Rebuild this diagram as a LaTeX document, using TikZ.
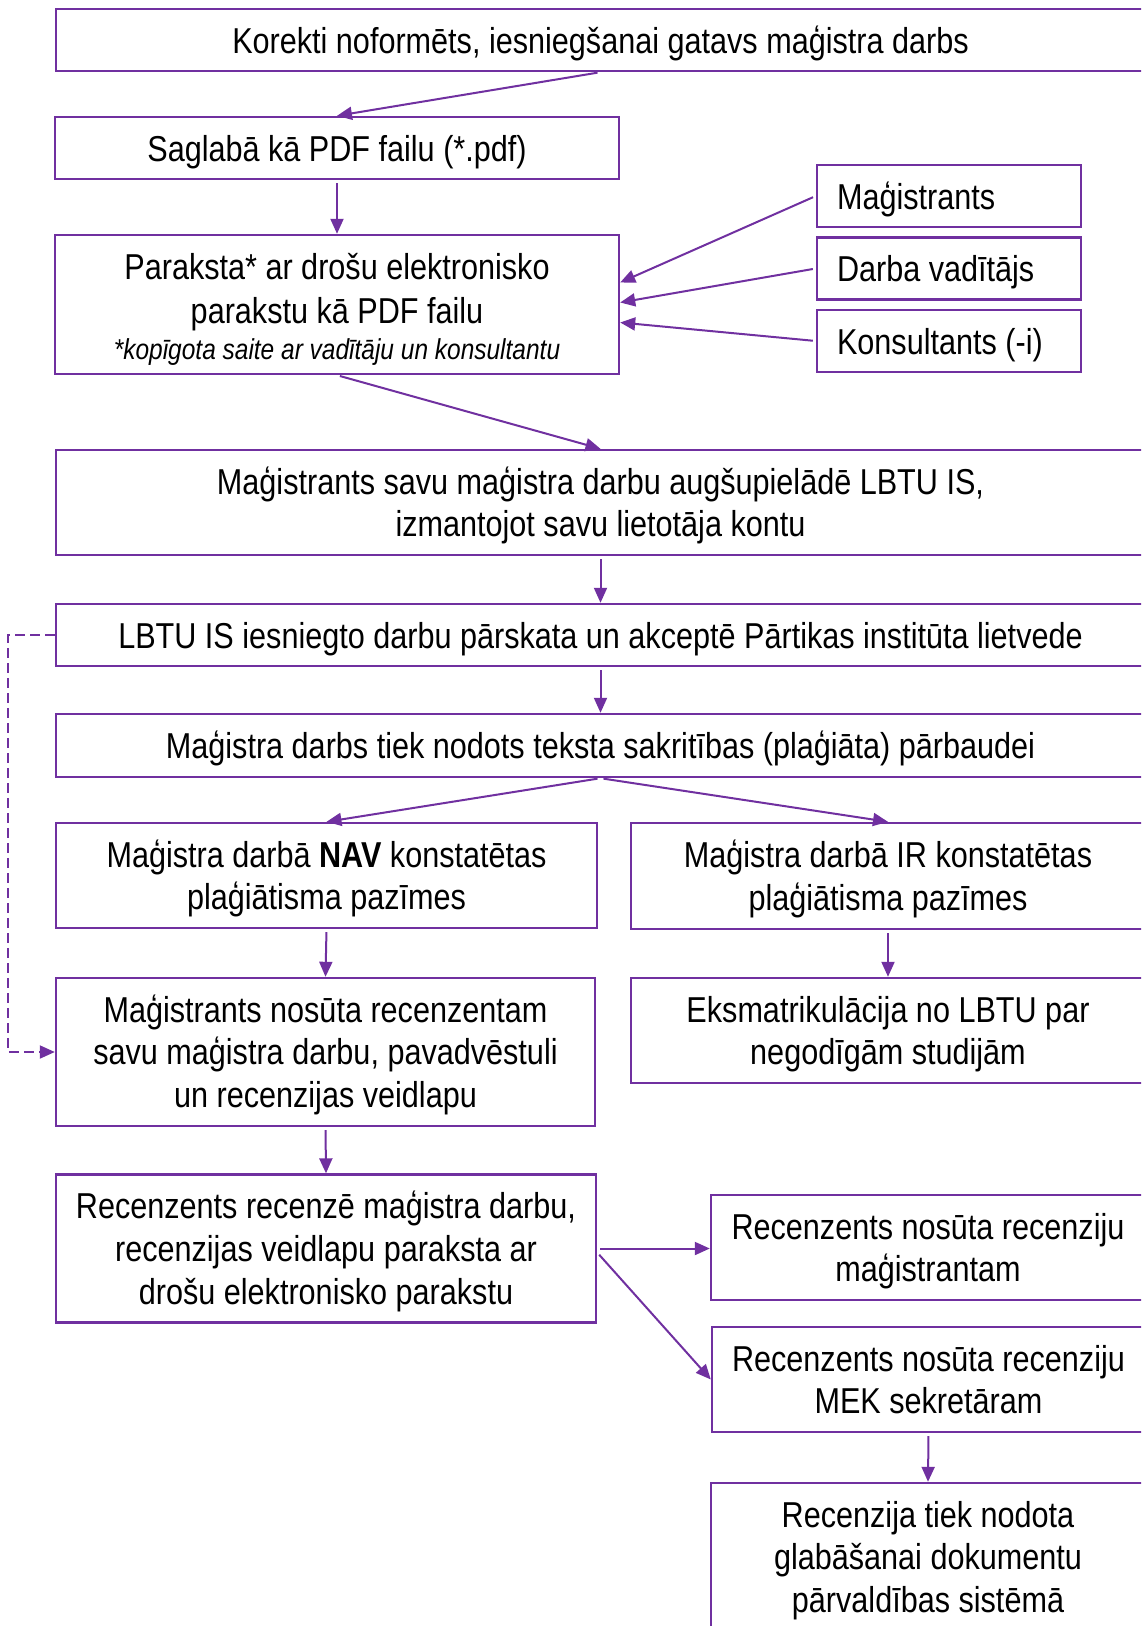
\documentclass[tikz,border=0pt]{standalone}
\usepackage{fontspec}
\setmainfont[FakeStretch=0.85]{Liberation Sans}
\usetikzlibrary{arrows.meta}
\definecolor{purp}{HTML}{7030A0}
\newcommand\boxstrut{\rule[-2.7pt]{0pt}{19.9pt}}
\begin{document}
\begin{tikzpicture}[x=0.5pt, y=-0.5pt,
    mainbox/.style={draw=purp, line width=1.2pt, align=center, inner sep=0pt,
      font=\fontsize{18}{21.4}\selectfont},
    oneline/.style={mainbox, execute at begin node=\boxstrut},
    twoline/.style={mainbox, text height=37.3pt, text depth=3pt},
    threeline/.style={mainbox, text height=58.7pt, text depth=3pt},
    sidebox/.style={oneline, minimum height=31pt, text width=112pt,
      inner xsep=10pt, align=flush left},
    arr/.style={draw=purp, line width=1pt, shorten <=1.5pt,
      -{Triangle[length=7.5pt,width=6.5pt]}},
    dasharr/.style={arr, shorten <=0pt, dash pattern=on 5pt off 2.5pt}]
  \useasboundingbox (0,0) rectangle (1141,1626);
  \clip (0,0) rectangle (1141,1626);
  \node[oneline, minimum width=544.5pt, minimum height=31pt] (korekti) at (600.5,40) {Korekti noformēts, iesniegšanai gatavs maģistra darbs};
  \node[oneline, minimum width=282pt, minimum height=31pt] (saglaba) at (337,148) {Saglabā kā PDF failu (*.pdf)};
  \node[mainbox, text height=58.1pt, text depth=3pt, minimum width=282pt, minimum height=69.5pt] (paraksta) at (337,304.5) {Paraksta* ar drošu elektronisko\\[0.8pt] parakstu kā PDF failu\\[-3.4pt] {\itshape\fontsize{14.4}{17}\selectfont *kopīgota saite ar vadītāju un konsultantu}};
  \node[sidebox] (magistrants) at (949,196) {Maģistrants};
  \node[sidebox] (vaditajs) at (949,268.5) {Darba vadītājs};
  \node[sidebox] (konsultants) at (949,341) {Konsultants (-i)};
  \node[twoline, minimum width=544.5pt, minimum height=52.5pt] (augsupielade) at (600.5,502.5) {Maģistrants savu maģistra darbu augšupielādē LBTU IS,\\ izmantojot savu lietotāja kontu};
  \node[oneline, minimum width=544.5pt, minimum height=31pt] (lietvede) at (600.5,635) {LBTU IS iesniegto darbu pārskata un akceptē Pārtikas institūta lietvede};
  \node[oneline, minimum width=544.5pt, minimum height=31.5pt] (plagiats) at (600.5,745.5) {Maģistra darbs tiek nodots teksta sakritības (plaģiāta) pārbaudei};
  \node[twoline, minimum width=270.5pt, minimum height=52.5pt] (nav) at (326.5,875.5) {Maģistra darbā \textbf{NAV} konstatētas\\ plaģiātisma pazīmes};
  \node[twoline, minimum width=257pt, minimum height=53pt] (ir) at (888,876) {Maģistra darbā IR konstatētas\\ plaģiātisma pazīmes};
  \node[threeline, minimum width=269.5pt, minimum height=74pt] (nosuta) at (325.5,1052) {Maģistrants nosūta recenzentam\\ savu maģistra darbu, pavadvēstuli\\ un recenzijas veidlapu};
  \node[twoline, minimum width=257pt, minimum height=52.5pt] (eksmat) at (888,1030.5) {Eksmatrikulācija no LBTU par\\ negodīgām studijām};
  \node[threeline, minimum width=270pt, minimum height=74pt] (recenze) at (326,1248.5) {Recenzents recenzē maģistra darbu,\\ recenzijas veidlapu paraksta ar\\ drošu elektronisko parakstu};
  \node[twoline, minimum width=217pt, minimum height=52.5pt] (magistrantam) at (928,1247.5) {Recenzents nosūta recenziju\\ maģistrantam};
  \node[twoline, minimum width=216.5pt, minimum height=52.5pt] (mek) at (928.5,1379.5) {Recenzents nosūta recenziju\\ MEK sekretāram};
  \node[threeline, minimum width=217pt, minimum height=74pt] (recenzija) at (928,1557) {Recenzija tiek nodota\\ glabāšanai dokumentu\\ pārvaldības sistēmā};
  \draw[arr] (korekti.south) -- (saglaba.north);
  \draw[arr] (saglaba.south) -- (paraksta.north);
  \draw[arr] (magistrants.west) -- ([yshift=11pt]paraksta.east);
  \draw[arr] (vaditajs.west) -- ([yshift=1pt]paraksta.east);
  \draw[arr] (konsultants.west) -- ([yshift=-9pt]paraksta.east);
  \draw[arr] (paraksta.south) -- (augsupielade.north);
  \draw[arr] (augsupielade.south) -- (lietvede.north);
  \draw[arr] (lietvede.south) -- (plagiats.north);
  \draw[arr] (plagiats.south) -- (nav.north);
  \draw[arr] (plagiats.south) -- (ir.north);
  \draw[arr] (nav.south) -- (nosuta.north);
  \draw[arr] (ir.south) -- (eksmat.north);
  \draw[arr] (nosuta.south) -- (recenze.north);
  \draw[arr] (recenze.east) -- (recenze.east -| magistrantam.west);
  \draw[arr] ([yshift=-2pt]recenze.east) -- (mek.west);
  \draw[arr] (mek.south) -- (recenzija.north);
  \draw[dasharr] (lietvede.west) -- ++(-47,0) |- (nosuta.west);
\end{tikzpicture}
\end{document}
